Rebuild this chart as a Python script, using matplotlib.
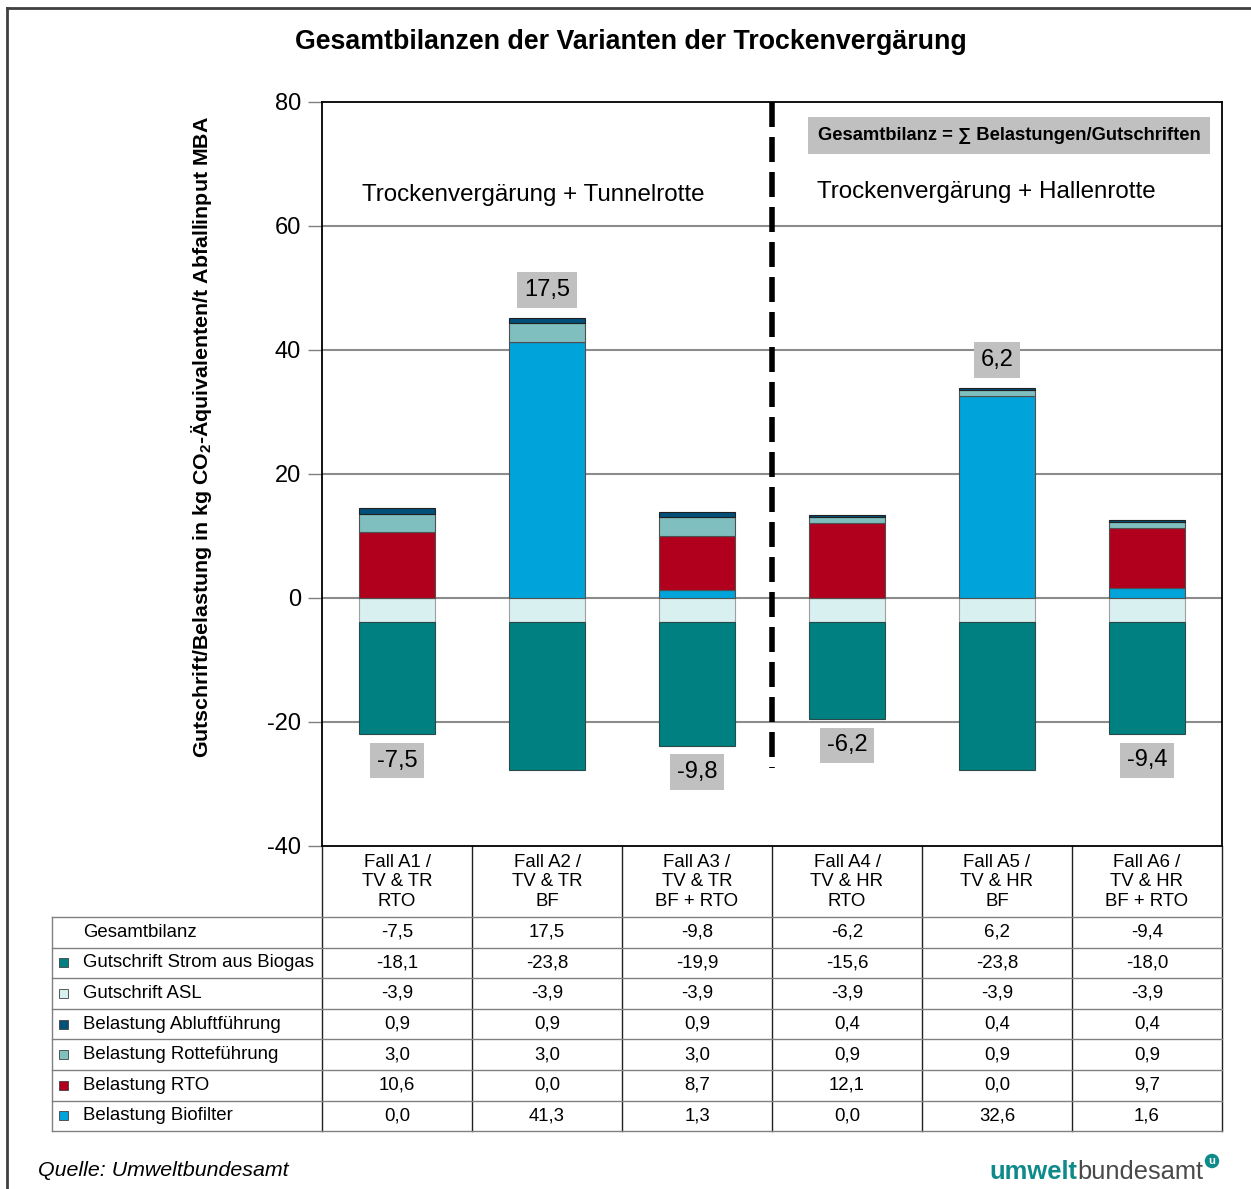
import matplotlib
matplotlib.use('Agg')
import matplotlib.pyplot as plt
from matplotlib.patches import Rectangle

plt.rcParams['font.family'] = ['Liberation Sans', 'DejaVu Sans']
plt.rcParams['mathtext.fontset'] = 'custom'
plt.rcParams['mathtext.rm'] = 'Liberation Sans'
plt.rcParams['mathtext.bf'] = 'Liberation Sans:bold'
plt.rcParams['mathtext.default'] = 'bf'
plt.rcParams['axes.unicode_minus'] = False

# Daten
faelle = ["Fall A1 /\nTV & TR\nRTO", "Fall A2 /\nTV & TR\nBF", "Fall A3 /\nTV & TR\nBF + RTO",
          "Fall A4 /\nTV & HR\nRTO", "Fall A5 /\nTV & HR\nBF", "Fall A6 /\nTV & HR\nBF + RTO"]
gesamt = [-7.5, 17.5, -9.8, -6.2, 6.2, -9.4]
strom = [-18.1, -23.8, -19.9, -15.6, -23.8, -18.0]
asl = [-3.9, -3.9, -3.9, -3.9, -3.9, -3.9]
abluft = [0.9, 0.9, 0.9, 0.4, 0.4, 0.4]
rotte = [3.0, 3.0, 3.0, 0.9, 0.9, 0.9]
rto = [10.6, 0.0, 8.7, 12.1, 0.0, 9.7]
biofilter = [0.0, 41.3, 1.3, 0.0, 32.6, 1.6]

zeilen = ["Gesamtbilanz", "Gutschrift Strom aus Biogas", "Gutschrift ASL", "Belastung Abluftführung",
          "Belastung Rotteführung", "Belastung RTO", "Belastung Biofilter"]
werte = [gesamt, strom, asl, abluft, rotte, rto, biofilter]
farben = [None, '#008080', '#D9F0F0', '#00507A', '#80BFBF', '#B0001E', '#00A3DA']

W, H = 1251, 1189
fig = plt.figure(figsize=(W / 100, H / 100), dpi=100)

# Overlay in Pixelkoordinaten fuer Rahmen, Tabelle, Fusszeile
ov = fig.add_axes([0, 0, 1, 1])
ov.set_xlim(0, W)
ov.set_ylim(H, 0)
ov.axis('off')

ov.plot([7, W], [8, 8], color='#404040', lw=2)
ov.plot([7, 7], [8, H], color='#404040', lw=2)

ov.text(631, 42, "Gesamtbilanzen der Varianten der Trockenvergärung", ha='center', va='center',
        fontsize=19.3, fontweight='bold')

# Tabelle
col_x = [322, 472, 622, 772, 922, 1072, 1222]
row_y = [917 + i * 30.6 for i in range(8)]
for x in col_x:
    ov.plot([x, x], [846, row_y[-1]], color='#202020', lw=1)
ov.plot([52, 52], [row_y[0], row_y[-1]], color='#808080', lw=1)
for y in row_y:
    ov.plot([52, 1222], [y, y], color='#808080', lw=1)
for i, lab in enumerate(faelle):
    cx = (col_x[i] + col_x[i + 1]) / 2
    ov.text(cx, 882, lab, ha='center', va='center', fontsize=13.4, linespacing=1.2)
for r, (name, vals, fc) in enumerate(zip(zeilen, werte, farben)):
    cy = (row_y[r] + row_y[r + 1]) / 2
    if fc is not None:
        ov.add_patch(Rectangle((59, cy - 4.5), 9, 9, facecolor=fc, edgecolor='#404040', lw=0.6))
    ov.text(83, cy, name, ha='left', va='center', fontsize=13.4)
    for i, v in enumerate(vals):
        cx = (col_x[i] + col_x[i + 1]) / 2
        ov.text(cx, cy, f"{v:.1f}".replace('.', ','), ha='center', va='center', fontsize=13.4)

# Fusszeile
ov.text(38, 1170, "Quelle: Umweltbundesamt", ha='left', va='center', fontsize=15.4, style='italic')
ov.text(1077, 1172, "umwelt", ha='right', va='center', fontsize=18.4, fontweight='bold', color='#0F8A8A')
ov.text(1077, 1172, "bundesamt", ha='left', va='center', fontsize=18.4, color='#4A4A4A')
ov.text(1212, 1161, "u", ha='center', va='center', fontsize=8, fontweight='bold', color='white',
        bbox=dict(boxstyle='circle,pad=0.2', fc='#0F8A8A', ec='none'))

# Diagramm
ax = fig.add_axes([322 / W, 1 - 846 / H, 900 / W, 744 / H])
ax.set_facecolor('none')
x = list(range(len(faelle)))
bw = 0.51
ax.bar(x, asl, bw, color=farben[2], edgecolor='#A0A0A0', lw=0.8, zorder=3)
ax.bar(x, strom, bw, bottom=asl, color=farben[1], edgecolor='#2A4A4A', lw=0.8, zorder=3)
b1 = biofilter
b2 = [a + b for a, b in zip(b1, rto)]
b3 = [a + b for a, b in zip(b2, rotte)]
ax.bar(x, biofilter, bw, color=farben[6], edgecolor='#505050', lw=0.8, zorder=3)
ax.bar(x, rto, bw, bottom=b1, color=farben[5], edgecolor='#505050', lw=0.8, zorder=3)
ax.bar(x, rotte, bw, bottom=b2, color=farben[4], edgecolor='#505050', lw=0.8, zorder=3)
ax.bar(x, abluft, bw, bottom=b3, color=farben[3], edgecolor='#202020', lw=0.8, zorder=3)

for i, g in enumerate(gesamt):
    top = b3[i] + abluft[i]
    bot = asl[i] + strom[i]
    if g > 0:
        ax.annotate(f"{g:.1f}".replace('.', ','), (i, top), xytext=(0, 20), textcoords='offset points',
                    ha='center', va='center', fontsize=17, zorder=5,
                    bbox=dict(boxstyle='square,pad=0.28', fc='#C0C0C0', ec='none'))
    else:
        ax.annotate(f"{g:.1f}".replace('.', ','), (i, bot), xytext=(0, -19), textcoords='offset points',
                    ha='center', va='center', fontsize=17, zorder=5,
                    bbox=dict(boxstyle='square,pad=0.28', fc='#C0C0C0', ec='none'))

ax.set_xlim(-0.5, 5.5)
ax.set_ylim(-40, 80)
ax.set_yticks([-40, -20, 0, 20, 40, 60, 80])
ax.set_xticks([])
ax.tick_params(axis='y', direction='out', length=10, width=1, color='#808080', labelsize=17, pad=5)
for yg in [-20, 0, 20, 40, 60]:
    ax.axhline(yg, color='#8C8C8C', lw=1.5, zorder=1)
for s in ax.spines.values():
    s.set_color('#000000')
    s.set_linewidth(1.3)

ax.plot([2.5, 2.5], [80, -27.4], color='black', lw=4, dashes=(4.5, 1.8), zorder=4)

ax.text(0.91, 65, "Trockenvergärung + Tunnelrotte", ha='center', va='center', fontsize=17.4)
ax.text(3.93, 65.5, "Trockenvergärung + Hallenrotte", ha='center', va='center', fontsize=17.4)
ax.text(4.08, 74.6, "Gesamtbilanz = ∑ Belastungen/Gutschriften", ha='center', va='center',
        fontsize=13.2, fontweight='bold',
        bbox=dict(boxstyle='square,pad=0.55', fc='#C0C0C0', ec='none'))

ax.set_ylabel("Gutschrift/Belastung in kg CO$_2$-Äquivalenten/t Abfallinput MBA",
              fontsize=15.4, fontweight='bold')
ax.yaxis.set_label_coords(-0.12, 0.55)

fig.savefig('out.png', dpi=100)
